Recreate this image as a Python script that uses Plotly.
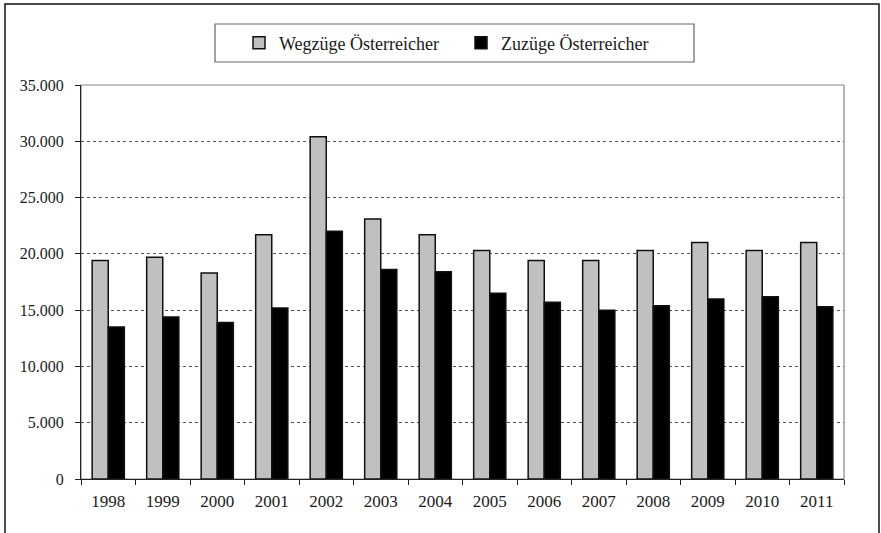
import plotly.graph_objects as go

years = ["1998", "1999", "2000", "2001", "2002", "2003", "2004",
         "2005", "2006", "2007", "2008", "2009", "2010", "2011"]
wegzuege = [19400, 19700, 18300, 21700, 30400, 23100, 21700,
            20300, 19400, 19400, 20300, 21000, 20300, 21000]
zuzuege = [13500, 14400, 13900, 15200, 22000, 18600, 18400,
           16500, 15700, 15000, 15400, 16000, 16200, 15300]
y_ticks = [0, 5000, 10000, 15000, 20000, 25000, 30000, 35000]
series_names = ["Wegzüge Österreicher", "Zuzüge Österreicher"]

W, H = 881, 533
L, R, T, B = 81, 37, 85, 54
PW, PH = W - L - R, H - T - B


def px(x):
    return (x - L) / PW


def py(y):
    return (H - B - y) / PH


FONT = "Liberation Serif"

fig = go.Figure()
fig.add_trace(go.Bar(x=years, y=wegzuege, name=series_names[0],
                     marker=dict(color="#c0c0c0", line=dict(color="#111111", width=1.5))))
fig.add_trace(go.Bar(x=years, y=zuzuege, name=series_names[1],
                     marker=dict(color="#000000", line=dict(color="#111111", width=1.5))))

fig.update_layout(
    width=W, height=H,
    margin=dict(l=L, r=R, t=T, b=B, pad=0),
    paper_bgcolor="white", plot_bgcolor="white",
    separators=",.",
    font=dict(family=FONT, size=16, color="#1a1a1a"),
    barmode="group", bargap=0.41, bargroupgap=0,
    showlegend=True,
    legend=dict(orientation="h", x=px(239), xanchor="left", y=py(43), yanchor="middle",
                bgcolor="rgba(0,0,0,0)", borderwidth=0,
                font=dict(family=FONT, size=18, color="#1a1a1a"),
                entrywidth=177, entrywidthmode="pixels", itemclick=False),
    shapes=[
        dict(type="rect", xref="paper", yref="paper", x0=px(5), x1=px(879), y0=py(540), y1=py(4),
             line=dict(color="#111111", width=1.5), layer="below"),
        dict(type="rect", xref="paper", yref="paper", x0=px(215), x1=px(694), y0=py(62), y1=py(24),
             line=dict(color="#666666", width=1.2), layer="below"),
        dict(type="rect", xref="paper", yref="paper", x0=0, x1=1, y0=0, y1=1,
             line=dict(color="#888888", width=1.2), layer="below"),
    ],
)

fig.update_xaxes(type="category", showline=True, linecolor="#222222", linewidth=1.2,
                 ticks="outside", ticklen=5, tickcolor="#222222", tickson="boundaries",
                 showgrid=False, zeroline=False, ticklabelstandoff=6,
                 tickfont=dict(family=FONT, size=17, color="#1a1a1a"))
fig.update_yaxes(range=[0, 35000], tickvals=y_ticks, tickformat=",d",
                 showline=True, linecolor="#222222", linewidth=1.2,
                 ticks="outside", ticklen=5, tickcolor="#222222",
                 showgrid=True, gridcolor="#555555", griddash="dot", gridwidth=1,
                 zeroline=False, ticklabelstandoff=8,
                 tickfont=dict(family=FONT, size=16, color="#1a1a1a"))

fig.write_html("out.html", config={"displayModeBar": False},
               post_script="document.body.style.margin='0';")
